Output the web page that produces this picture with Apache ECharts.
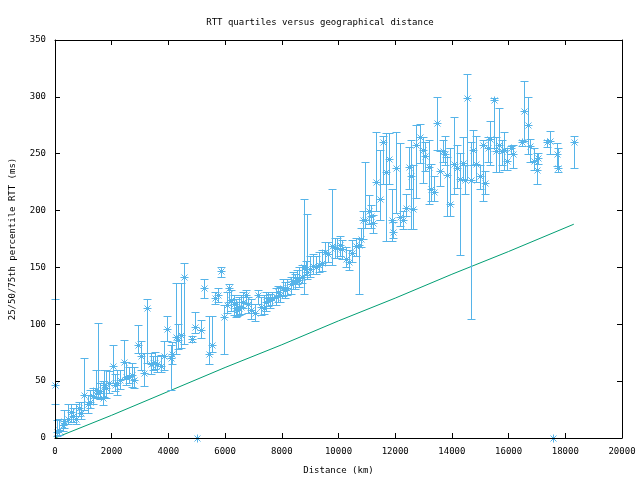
<!DOCTYPE html>
<html>
<head>
<meta charset="utf-8">
<script src="https://cdn.jsdelivr.net/npm/echarts@6/dist/echarts.min.js"></script>
<style>html,body{margin:0;padding:0;background:#fff}#c{width:640px;height:480px}</style>
</head>
<body>
<div id="c"></div>
<script>
// [distance km, median RTT, 25th percentile, 75th percentile]
const rttQuartiles = [
  [0,47,30,122],[70,5,2,16],[150,7,3,17],[270,11,6,17],[330,15,9,25],[450,17,12,30],
  [560,23,14,30],[620,19,14,26],[740,17,12,30],[860,26,19,32],[920,22,17,32],[1010,38,25,70],
  [1150,30,22,38],[1250,32,26,42],[1330,37,30,44],[1440,42,35,60],[1500,40,36,101],[1600,41,34,48],
  [1680,35,29,50],[1740,47,36,60],[1810,44,35,60],[1910,48,40,59],[2030,63,48,82],[2100,47,41,56],
  [2200,48,38,60],[2300,51,43,60],[2420,67,52,86],[2520,54,47,67],[2620,54,48,62],[2730,55,45,66],
  [2790,51,44,62],[2930,82,75,99],[3030,72,60,85],[3150,57,46,75],[3250,114,66,122],[3380,65,56,75],
  [3450,66,60,72],[3520,66,61,76],[3610,65,58,72],[3730,63,58,73],[3850,72,60,85],[3940,96,85,107],
  [4080,70,42,82],[4140,74,65,84],[4260,89,74,136],[4350,86,78,100],[4440,91,79,136],[4550,142,83,154],
  [4850,87,84,90],[4930,98,92,111],[5000,0,0,0],[5160,95,88,104],[5260,132,123,140],[5430,74,65,107],
  [5550,82,76,107],[5630,123,118,128],[5750,126,120,132],[5850,147,142,150],[5960,106,74,117],[6080,117,110,128],
  [6140,132,120,135],[6220,121,112,130],[6300,118,108,126],[6370,114,106,122],[6430,113,107,120],[6490,114,108,124],
  [6550,115,109,126],[6640,120,114,128],[6730,126,119,130],[6820,118,110,124],[6920,113,105,122],[7040,110,103,118],
  [7160,126,118,130],[7280,115,108,124],[7370,114,109,126],[7450,120,112,128],[7510,123,116,128],[7600,121,114,127],
  [7660,123,117,128],[7780,124,117,132],[7850,128,120,134],[7930,126,120,133],[8050,132,125,140],[8120,130,123,137],
  [8190,132,126,140],[8310,135,127,142],[8380,138,131,146],[8450,137,131,144],[8530,141,135,148],[8600,139,133,150],
  [8720,142,136,152],[8780,150,127,210],[8840,149,143,156],[8900,146,140,197],[9010,149,142,160],[9100,151,144,162],
  [9200,150,144,160],[9310,152,146,164],[9430,154,147,165],[9540,164,152,172],[9620,162,155,172],[9780,169,152,219],
  [9870,167,158,176],[9950,167,158,176],[10050,170,160,178],[10130,166,157,174],[10250,157,150,168],[10360,155,148,165],
  [10480,163,155,174],[10600,169,160,176],[10720,170,127,176],[10800,175,168,185],[10870,192,175,200],[10950,192,185,243],
  [11070,200,188,214],[11130,195,185,205],[11220,189,180,196],[11340,225,200,269],[11460,210,192,253],[11560,260,223,266],
  [11660,234,173,268],[11770,245,223,268],[11890,192,173,219],[11920,181,176,190],[12040,237,198,269],[12160,194,186,259],
  [12270,192,184,200],[12370,202,195,215],[12480,238,219,256],[12540,230,184,262],[12620,201,184,240],[12750,258,211,275],
  [12860,265,242,276],[12980,253,224,265],[13060,248,235,260],[13180,238,206,262],[13260,219,208,241],[13360,216,208,230],
  [13470,277,253,300],[13570,235,222,252],[13670,252,243,262],[13770,250,240,266],[13830,231,195,247],[13940,206,195,255],
  [14060,241,215,282],[14180,237,220,258],[14270,228,161,251],[14390,242,228,265],[14470,227,215,240],[14530,299,227,320],
  [14670,227,105,260],[14760,253,240,271],[14860,241,225,266],[14980,230,219,240],[15100,258,208,262],[15180,224,215,235],
  [15260,255,243,265],[15350,263,240,279],[15470,297,255,299],[15560,252,234,265],[15650,258,234,290],[15760,252,240,262],
  [15850,253,236,269],[15960,244,236,255],[16080,255,250,257],[16170,250,237,258],[16470,260,257,262],[16550,288,261,314],
  [16670,275,250,300],[16760,257,243,263],[16880,244,236,255],[17000,236,223,251],[17050,246,241,251],[17350,260,256,262],
  [17460,261,250,270],[17550,0,0,0],[17700,250,239,259],[17760,237,234,255],[18290,260,237,266]
];
// reference line (distance km, RTT ms)
const lineDist = [0,2000,4000,6000,8000,10000,12000,14000,16000,18300];
const lineRtt  = [0,20,41,62,82,103,123,144,164,188];

const xTicks = [0,2000,4000,6000,8000,10000,12000,14000,16000,18000,20000];
const yTicks = [0,50,100,150,200,250,300,350];

const titleText = 'RTT quartiles versus geographical distance';
const xName = 'Distance (km)';
const yName = '25/50/75th percentile RTT (ms)';

const FONT = 'DejaVu Sans Mono';
const FS = 9;
const BLUE = '#56b4e9';
const GREEN = '#009e73';

const chart = echarts.init(document.getElementById('c'), null, {renderer: 'canvas'});

const baseX = {
  type: 'value', min: xTicks[0], max: xTicks[xTicks.length-1], interval: xTicks[1]-xTicks[0],
  splitLine: {show: false}, z: 10,
  axisLine: {show: true, onZero: false, lineStyle: {color: '#000', width: 1}},
  axisTick: {show: true, inside: true, length: 5, lineStyle: {color: '#000'}},
};
const baseY = {
  type: 'value', min: yTicks[0], max: yTicks[yTicks.length-1], interval: yTicks[1]-yTicks[0],
  splitLine: {show: false}, z: 10,
  axisLine: {show: true, onZero: false, lineStyle: {color: '#000', width: 1}},
  axisTick: {show: true, inside: true, length: 5, lineStyle: {color: '#000'}},
};

chart.setOption({
  animation: false,
  backgroundColor: '#fff',
  title: {
    text: titleText, left: 'center', top: 13,
    textStyle: {fontFamily: FONT, fontSize: FS, fontWeight: 'normal', color: '#000'}
  },
  grid: {left: 54, right: 18, top: 40, bottom: 42, containLabel: false},
  xAxis: [
    Object.assign({}, baseX, {
      position: 'bottom',
      name: xName, nameLocation: 'middle', nameGap: 28,
      nameTextStyle: {fontFamily: FONT, fontSize: FS, color: '#000'},
      axisLabel: {show: true, margin: 9, fontFamily: FONT, fontSize: FS, color: '#000',
        formatter: v => String(v)}
    }),
    Object.assign({}, baseX, {position: 'top', axisLabel: {show: false}})
  ],
  yAxis: [
    Object.assign({}, baseY, {
      position: 'left',
      name: yName, nameLocation: 'middle', nameGap: 38, nameRotate: 90,
      nameTextStyle: {fontFamily: FONT, fontSize: FS, color: '#000'},
      axisLabel: {show: true, margin: 9, fontFamily: FONT, fontSize: FS, color: '#000',
        formatter: v => String(v)}
    }),
    Object.assign({}, baseY, {position: 'right', axisLabel: {show: false}})
  ],
  series: [
    {
      type: 'line', xAxisIndex: 0, yAxisIndex: 0,
      data: lineDist.map((d, i) => [d, lineRtt[i]]),
      showSymbol: false, symbol: 'none',
      lineStyle: {color: GREEN, width: 1}, z: 2
    },
    {
      type: 'custom', xAxisIndex: 0, yAxisIndex: 0,
      data: rttQuartiles,
      encode: {x: 0, y: [1, 2, 3]},
      z: 3,
      renderItem: function (params, api) {
        const x = api.value(0);
        const r = v => Math.round(v) + 0.5;
        const pm = api.coord([x, api.value(1)]).map(r);
        const pl = api.coord([x, api.value(2)]).map(r);
        const ph = api.coord([x, api.value(3)]).map(r);
        const style = {stroke: BLUE, lineWidth: 1, fill: null};
        const c = 4, s = 4, d = 3;
        const seg = (x1, y1, x2, y2) => ({type: 'line', shape: {x1, y1, x2, y2}, style});
        const kids = [];
        if (Math.abs(ph[1] - pl[1]) > 0.5) {
          kids.push(seg(pl[0], pl[1], ph[0], ph[1]));
          kids.push(seg(pl[0]-c, pl[1], pl[0]+c, pl[1]));
          kids.push(seg(ph[0]-c, ph[1], ph[0]+c, ph[1]));
        }
        kids.push(seg(pm[0]-s, pm[1], pm[0]+s, pm[1]));
        kids.push(seg(pm[0], pm[1]-s, pm[0], pm[1]+s));
        kids.push(seg(pm[0]-d, pm[1]-d, pm[0]+d, pm[1]+d));
        kids.push(seg(pm[0]-d, pm[1]+d, pm[0]+d, pm[1]-d));
        return {type: 'group', children: kids};
      }
    }
  ]
});
</script>
</body>
</html>
